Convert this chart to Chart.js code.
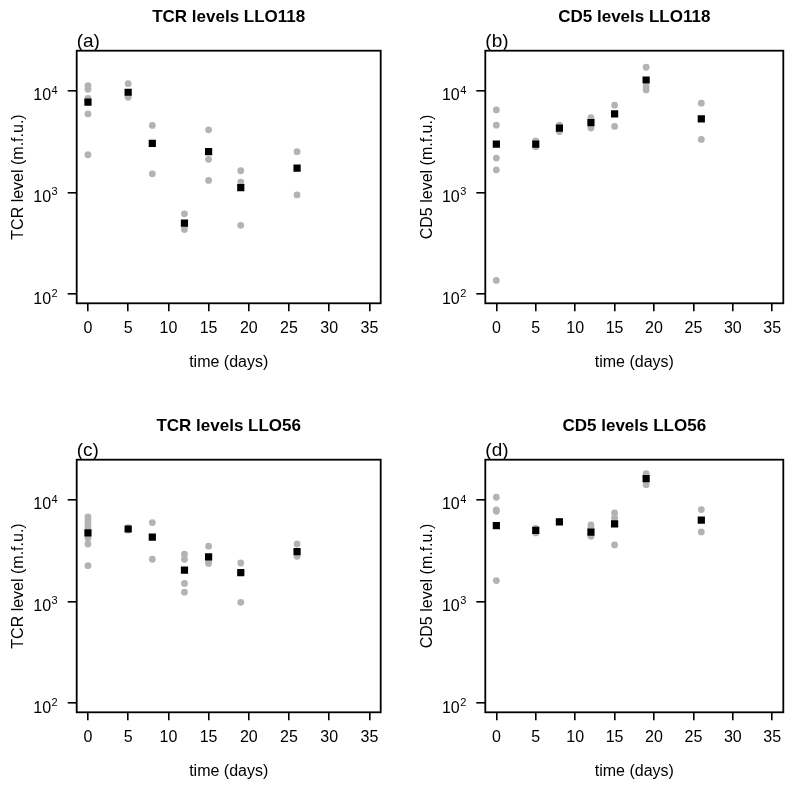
<!DOCTYPE html>
<html>
<head>
<meta charset="utf-8">
<script src="https://cdn.jsdelivr.net/npm/chart.js@4.4.1/dist/chart.umd.min.js"></script>
<style>
  html, body { margin: 0; padding: 0; background: #fff; overflow: hidden; }
  #wrap { position: relative; width: 800px; height: 791px; }
  canvas { position: absolute; }
</style>
</head>
<body>
<div id="wrap"></div>
<script>
// time points (days) shared by all panels
const days = [0, 5, 8, 12, 15, 19, 26];
const xTicks = [0, 5, 10, 15, 20, 25, 30, 35];
const yTicks = [100, 1000, 10000];
const yTickExp = ['2', '3', '4'];   // shown as 10^exp

// (a) TCR levels LLO118
const tcr118Mean = [7700, 9630, 3020, 497, 2510, 1110, 1730];
const tcr118Reps = [[11200, 10300, 8400, 5900, 2340], [11700, 9000, 8600], [4540, 1520], [614, 431, 470], [4110, 2110, 1310], [1630, 1260, 474], [2510, 942]];

// (b) CD5 levels LLO118
const cd5118Mean = [2980, 2980, 4280, 4850, 5900, 12700, 5270];
const cd5118Reps = [[6460, 4570, 2170, 1660, 136], [3200, 2800], [4580, 3960], [5430, 4280], [7180, 4440], [16950, 10940, 10150], [7520, 3310]];

// (c) TCR levels LLO56
const tcr56Mean = [4700, 5140, 4270, 2030, 2730, 1910, 3080];
const tcr56Reps = [[6760, 6270, 5810, 5380, 4200, 3660, 2240], [5300, 5000], [5940, 2590], [2900, 2590, 1500, 1230], [3480, 2350, 2500], [2380, 977], [3660, 2770]];

// (d) CD5 levels LLO56
const cd556Mean = [5550, 4990, 6030, 4780, 5770, 16100, 6270];
const cd556Reps = [[10540, 7900, 7680, 1600], [4700, 5200], [6100], [5640, 5260, 4360], [7400, 6600, 3580], [18000, 14000], [7970, 4810]];

const FONT = '"Liberation Sans", Arial, Helvetica, sans-serif';

const panels = [
  { title: 'TCR levels LLO118', tag: '(a)', ylab: 'TCR level (m.f.u.)', mean: tcr118Mean, reps: tcr118Reps, left: 0, top: 0, h: 395 },
  { title: 'CD5 levels LLO118', tag: '(b)', ylab: 'CD5 level (m.f.u.)', mean: cd5118Mean, reps: cd5118Reps, left: 400, top: 0, h: 395 },
  { title: 'TCR levels LLO56', tag: '(c)', ylab: 'TCR level (m.f.u.)', mean: tcr56Mean, reps: tcr56Reps, left: 0, top: 409, h: 382 },
  { title: 'CD5 levels LLO56', tag: '(d)', ylab: 'CD5 level (m.f.u.)', mean: cd556Mean, reps: cd556Reps, left: 400, top: 409, h: 382 }
];

function toPoints(reps) {
  return reps.flatMap((vals, i) => vals.map(v => ({ x: days[i], y: v })));
}

const framePlugin = {
  id: 'frame',
  afterDraw(chart) {
    const p = chart.options.plugins.frame;
    const a = chart.chartArea;
    const ctx = chart.ctx;
    ctx.save();
    ctx.strokeStyle = '#000';
    ctx.lineWidth = 1.8;
    ctx.strokeRect(a.left, a.top, a.right - a.left, a.bottom - a.top);
    ctx.fillStyle = '#000';
    const cx = (a.left + a.right) / 2;
    ctx.textAlign = 'center';
    ctx.textBaseline = 'middle';
    ctx.font = 'bold 17px ' + FONT;
    ctx.fillText(p.title, cx, 17);
    ctx.font = '16px ' + FONT;
    ctx.fillText('time (days)', cx, 363);
    ctx.textAlign = 'left';
    ctx.textBaseline = 'alphabetic';
    ctx.font = '19px ' + FONT;
    ctx.fillText(p.tag, a.left, a.top - 4);

    // y tick labels as 10 with superscript exponent
    const ys = chart.scales.y;
    yTicks.forEach((v, i) => {
      const py = ys.getPixelForValue(v);
      const right = a.left - 19;
      ctx.textAlign = 'right';
      ctx.font = '11px ' + FONT;
      const supW = ctx.measureText(yTickExp[i]).width;
      ctx.fillText(yTickExp[i], right, py + 3);
      ctx.font = '16px ' + FONT;
      ctx.fillText('10', right - supW - 0.5, py + 9.5);
    });

    ctx.translate(a.left - 58, (a.top + a.bottom) / 2);
    ctx.rotate(-Math.PI / 2);
    ctx.textAlign = 'center';
    ctx.textBaseline = 'middle';
    ctx.font = '16px ' + FONT;
    ctx.fillText(p.ylab, 0, 0);
    ctx.restore();
  }
};

panels.forEach(p => {
  const canvas = document.createElement('canvas');
  canvas.width = 400;
  canvas.height = p.h;
  canvas.style.left = p.left + 'px';
  canvas.style.top = p.top + 'px';
  document.getElementById('wrap').appendChild(canvas);

  const plotLeft = p.left === 0 ? 76.7 : 85.3;
  const plotRight = p.left === 0 ? 380.7 : 383.3;

  new Chart(canvas, {
    type: 'scatter',
    data: {
      datasets: [
        {
          data: p.mean.map((v, i) => ({ x: days[i], y: v })),
          pointStyle: 'rect',
          pointRadius: 5.1,
          backgroundColor: '#000',
          borderWidth: 0,
          order: 0
        },
        {
          data: toPoints(p.reps),
          pointStyle: 'circle',
          pointRadius: 3.4,
          backgroundColor: '#b3b3b3',
          borderWidth: 0,
          order: 1
        }
      ]
    },
    options: {
      responsive: false,
      animation: false,
      events: [],
      layout: { padding: { top: 50.7, right: 400 - plotRight, left: 0, bottom: 0 } },
      plugins: {
        legend: { display: false },
        tooltip: { enabled: false },
        frame: { title: p.title, tag: p.tag, ylab: p.ylab }
      },
      scales: {
        x: {
          type: 'linear',
          min: -1.4,
          max: 36.4,
          afterBuildTicks: s => { s.ticks = xTicks.map(v => ({ value: v })); },
          afterFit: s => { s.height = p.h - 303.3; },
          grid: { drawOnChartArea: false, drawTicks: true, tickLength: 8, color: '#000', lineWidth: 1.6 },
          border: { display: false },
          ticks: { color: '#000', font: { size: 16, family: FONT }, padding: 8, maxRotation: 0, autoSkip: false }
        },
        y: {
          type: 'logarithmic',
          min: 81.1,
          max: 24660,
          afterBuildTicks: s => { s.ticks = yTicks.map(v => ({ value: v })); },
          afterFit: s => { s.width = plotLeft; },
          grid: { drawOnChartArea: false, drawTicks: true, tickLength: 9, color: '#000', lineWidth: 1.6 },
          border: { display: false },
          ticks: { display: false, autoSkip: false }
        }
      }
    },
    plugins: [framePlugin]
  });
});
</script>
</body>
</html>
